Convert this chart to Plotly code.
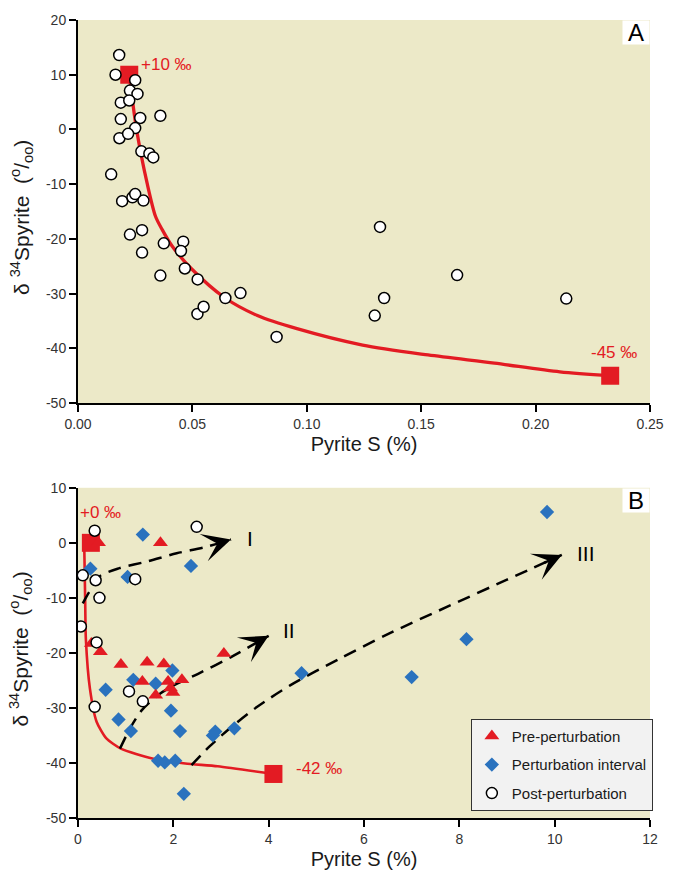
import plotly.graph_objects as go

# ---------------- Panel A: pyrite S vs d34S (post-perturbation samples) ----------------
a_pyrite_s = [0.018, 0.0164, 0.025, 0.0227, 0.026, 0.0187, 0.0224, 0.0187, 0.0272, 0.036,
              0.025, 0.0181, 0.0219, 0.0277, 0.0312, 0.0329, 0.0145, 0.0193, 0.0238, 0.025,
              0.0286, 0.0227, 0.028, 0.028, 0.0375, 0.046, 0.045, 0.036, 0.0467, 0.0523,
              0.0522, 0.0549, 0.0644, 0.071, 0.0868, 0.132, 0.1657, 0.1338, 0.1297, 0.2134]
a_d34s = [13.6, 10.0, 9.0, 7.1, 6.5, 4.9, 5.3, 1.9, 2.1, 2.5,
          0.25, -1.6, -0.8, -4.0, -4.4, -5.1, -8.2, -13.1, -12.4, -11.8,
          -13.0, -19.2, -18.4, -22.5, -20.8, -20.5, -22.2, -26.7, -25.4, -27.4,
          -33.7, -32.4, -30.8, -29.9, -37.9, -17.8, -26.6, -30.8, -34.0, -30.9]

# mixing curve and its two end-members
a_curve_s = [0.0224, 0.0256, 0.0303, 0.0339, 0.0368, 0.0411, 0.0497, 0.064, 0.0784,
             0.0957, 0.1244, 0.153, 0.182, 0.2106, 0.2326]
a_curve_d = [10.0, 0.0, -10.0, -15.9, -18.3, -21.3, -25.5, -30.7, -34.0,
             -36.4, -39.4, -41.2, -42.7, -44.3, -45.0]
a_end_s = [0.0224, 0.2326]
a_end_d = [10, -45]
a_end_labels = ["+10 ‰", "-45 ‰"]

# tick values / labels
a_xticks = [0.0, 0.05, 0.10, 0.15, 0.20, 0.25]
a_xticklabels = ["0.00", "0.05", "0.10", "0.15", "0.20", "0.25"]
a_yticks = [20, 10, 0, -10, -20, -30, -40, -50]
b_xticks = [0, 2, 4, 6, 8, 10, 12]
b_yticks = [10, 0, -10, -20, -30, -40, -50]

# ---------------- Panel B: three sample groups ----------------
pre_s = [0.43, 1.73, 0.28, 0.47, 0.90, 1.45, 1.80, 3.06, 1.35, 1.89, 2.18, 1.94, 1.99, 1.63]
pre_d = [0.0, 0.0, -18.3, -19.8, -22.1, -21.7, -22.0, -20.1, -25.2, -25.2, -24.9, -26.4, -27.2, -27.7]

pert_s = [1.36, 2.37, 0.26, 1.04, 9.84, 8.15, 4.69, 7.0, 1.98, 1.16, 1.63, 0.58,
          1.95, 0.85, 1.11, 2.14, 2.83, 2.88, 3.28, 1.68, 1.82, 2.04, 2.22]
pert_d = [1.5, -4.2, -4.7, -6.2, 5.6, -17.5, -23.7, -24.4, -23.2, -24.9, -25.6, -26.7,
          -30.5, -32.1, -34.2, -34.2, -35.0, -34.3, -33.7, -39.6, -39.9, -39.6, -45.6]

post_s = [0.35, 2.49, 0.10, 0.37, 1.20, 0.45, 0.06, 0.39, 1.07, 1.36, 0.35]
post_d = [2.2, 2.9, -5.9, -6.8, -6.6, -10.0, -15.2, -18.1, -27.0, -28.8, -29.8]

b_curve_s = [0.13, 0.15, 0.165, 0.25, 0.39, 0.59, 0.9, 1.56, 2.25, 2.93, 4.1]
b_curve_d = [0.0, -10.0, -17.5, -26.5, -32.5, -35.5, -37.4, -39.2, -40.1, -40.6, -42.0]
b_end_s = [0.27, 4.1]
b_end_d = [0, -42]
b_end_labels = ["+0 ‰", "-42 ‰"]

# trend paths I, II, III
path1_s = [0.1, 0.23, 0.45, 0.87, 1.45, 2.07, 2.66, 3.21]
path1_d = [-11.0, -9.0, -6.1, -4.6, -3.4, -1.9, -0.8, 0.6]
path2_s = [0.88, 1.1, 1.34, 1.69, 2.1, 2.52, 3.2, 4.0]
path2_d = [-37.4, -33.6, -30.4, -27.6, -25.5, -23.8, -20.8, -16.9]
path3_s = [2.38, 2.76, 3.2, 3.76, 4.45, 5.48, 6.5, 7.75, 9.0, 10.15]
path3_d = [-40.4, -37.0, -33.6, -29.8, -25.9, -21.1, -16.6, -11.6, -6.7, -2.2]
trend_names = ["I", "II", "III"]
trend_label_s = [3.6, 4.42, 10.65]
trend_label_d = [0.8, -16.0, -1.9]

RED = "#E31B23"
BLUE = "#2A72BE"
BG = "#ECE9C8"
FONT = "Liberation Sans, Arial, sans-serif"


def hyphen_labels(vals):
    return [str(v) for v in vals]


fig = go.Figure()

# ---- Panel A traces ----
fig.add_trace(go.Scatter(x=a_curve_s, y=a_curve_d, mode="lines", xaxis="x", yaxis="y",
                         line=dict(color=RED, width=3.3, shape="spline", smoothing=0.8),
                         showlegend=False, hoverinfo="skip"))
fig.add_trace(go.Scatter(x=a_end_s, y=a_end_d, mode="markers", xaxis="x", yaxis="y",
                         marker=dict(symbol="square", size=18, color=RED),
                         showlegend=False))
fig.add_trace(go.Scatter(x=a_pyrite_s, y=a_d34s, mode="markers", xaxis="x", yaxis="y",
                         marker=dict(symbol="circle", size=11, color="white",
                                     line=dict(color="black", width=1.5)),
                         showlegend=False))

# ---- Panel B traces ----
fig.add_trace(go.Scatter(x=b_curve_s, y=b_curve_d, mode="lines", xaxis="x2", yaxis="y2",
                         line=dict(color=RED, width=2.6, shape="spline", smoothing=0.6),
                         showlegend=False, hoverinfo="skip"))
for ps, pd_ in [(path1_s, path1_d), (path2_s, path2_d), (path3_s, path3_d)]:
    fig.add_trace(go.Scatter(x=ps, y=pd_, mode="lines", xaxis="x2", yaxis="y2",
                             line=dict(color="black", width=2.5, dash="13px,8px",
                                       shape="spline", smoothing=0.8),
                             showlegend=False, hoverinfo="skip"))
fig.add_trace(go.Scatter(x=b_end_s, y=b_end_d, mode="markers", xaxis="x2", yaxis="y2",
                         marker=dict(symbol="square", size=18, color=RED),
                         showlegend=False))
fig.add_trace(go.Scatter(x=pert_s, y=pert_d, mode="markers", xaxis="x2", yaxis="y2",
                         name="Perturbation interval", legendrank=2, legendgroup="g2",
                         marker=dict(symbol="diamond", size=11, color=BLUE)))
fig.add_trace(go.Scatter(x=pre_s, y=pre_d, mode="markers", xaxis="x2", yaxis="y2",
                         name="Pre-perturbation", legendrank=1, legendgroup="g1",
                         marker=dict(symbol="triangle-up", size=13, color=RED)))
fig.add_trace(go.Scatter(x=post_s, y=post_d, mode="markers", xaxis="x2", yaxis="y2",
                         name="Post-perturbation", legendrank=3, legendgroup="g3",
                         marker=dict(symbol="circle", size=11, color="white",
                                     line=dict(color="black", width=1.5))))

annotations = []
# end-member labels
annotations.append(dict(x=a_end_s[0], y=a_end_d[0], xref="x", yref="y", text=a_end_labels[0],
                        showarrow=False, xanchor="left", xshift=10, yshift=10,
                        font=dict(color=RED, size=17, family=FONT)))
annotations.append(dict(x=a_end_s[1], y=a_end_d[1], xref="x", yref="y", text=a_end_labels[1],
                        showarrow=False, xanchor="center", xshift=4, yshift=23,
                        font=dict(color=RED, size=17, family=FONT)))
annotations.append(dict(x=b_end_s[0], y=b_end_d[0], xref="x2", yref="y2", text=b_end_labels[0],
                        showarrow=False, xanchor="left", xshift=-13, yshift=30,
                        font=dict(color=RED, size=17, family=FONT)))
annotations.append(dict(x=b_end_s[1], y=b_end_d[1], xref="x2", yref="y2", text=b_end_labels[1],
                        showarrow=False, xanchor="left", xshift=21, yshift=5,
                        font=dict(color=RED, size=17, family=FONT)))

# arrow heads at the ends of the trend paths
for ps, pd_ in [(path1_s, path1_d), (path2_s, path2_d), (path3_s, path3_d)]:
    annotations.append(dict(x=ps[-1], y=pd_[-1], xref="x2", yref="y2",
                            ax=ps[-1] - (ps[-1] - ps[-2]) * 0.35,
                            ay=pd_[-1] - (pd_[-1] - pd_[-2]) * 0.35,
                            axref="x2", ayref="y2", showarrow=True, text="",
                            arrowhead=3, arrowsize=1.9, arrowwidth=2.5, arrowcolor="black"))
for name, lx, ly in zip(trend_names, trend_label_s, trend_label_d):
    annotations.append(dict(x=lx, y=ly, xref="x2", yref="y2", text=name, showarrow=False,
                            font=dict(size=21, color="black", family=FONT)))

# panel letters
for letter, xr, yr in [("A", "x domain", "y domain"), ("B", "x2 domain", "y2 domain")]:
    annotations.append(dict(x=1, y=1, xref=xr, yref=yr, xanchor="right", yanchor="top",
                            text=letter, showarrow=False, bgcolor="white",
                            width=24, height=21, borderpad=1,
                            font=dict(size=24, color="black", family=FONT)))

# y-axis titles
ytitle = "δ <sup>34</sup>Spyrite  (<sup>o</sup>/<sub>oo</sub>)"
annotations.append(dict(x=-0.1, y=0.753, xref="paper", yref="paper", text=ytitle,
                        textangle=-90, showarrow=False, xanchor="center", yanchor="middle",
                        font=dict(size=21, color="#1a1a1a", family=FONT)))
annotations.append(dict(x=-0.1, y=0.212, xref="paper", yref="paper", text=ytitle,
                        textangle=-90, showarrow=False, xanchor="center", yanchor="middle",
                        font=dict(size=21, color="#1a1a1a", family=FONT)))

axis_common = dict(showline=True, linecolor="black", linewidth=2, ticks="outside",
                   ticklen=7, tickwidth=2, tickcolor="black", showgrid=False,
                   zeroline=False, mirror=False,
                   tickfont=dict(size=14, color="#333333", family=FONT))
xtitle = dict(text="Pyrite S (%)", font=dict(size=20, color="#1a1a1a", family=FONT), standoff=6)

fig.update_layout(
    width=676, height=879,
    margin=dict(l=78, r=17, t=16, b=59),
    paper_bgcolor="white",
    plot_bgcolor=BG,
    font=dict(family=FONT),
    xaxis=dict(domain=[0, 1], anchor="y", range=[0, 0.25], tickmode="array",
               tickvals=a_xticks, ticktext=a_xticklabels, title=xtitle, **axis_common),
    yaxis=dict(domain=[0.5199, 1], anchor="x", range=[-50, 20], tickmode="array",
               tickvals=a_yticks, ticktext=hyphen_labels(a_yticks), **axis_common),
    xaxis2=dict(domain=[0, 1], anchor="y2", range=[0, 12], tickmode="array",
                tickvals=b_xticks, ticktext=hyphen_labels(b_xticks),
                title=xtitle, **axis_common),
    yaxis2=dict(domain=[0, 0.4138], anchor="x2", range=[-50, 10], tickmode="array",
                tickvals=b_yticks, ticktext=hyphen_labels(b_yticks), **axis_common),
    legend=dict(x=1.005, y=0.009, xanchor="right", yanchor="bottom",
                bgcolor="#F2F2F2", bordercolor="#333333", borderwidth=1,
                font=dict(size=15, color="#1a1a1a", family=FONT),
                tracegroupgap=6, traceorder="grouped"),
    annotations=annotations,
    showlegend=True,
)

fig.write_html("out.html")
